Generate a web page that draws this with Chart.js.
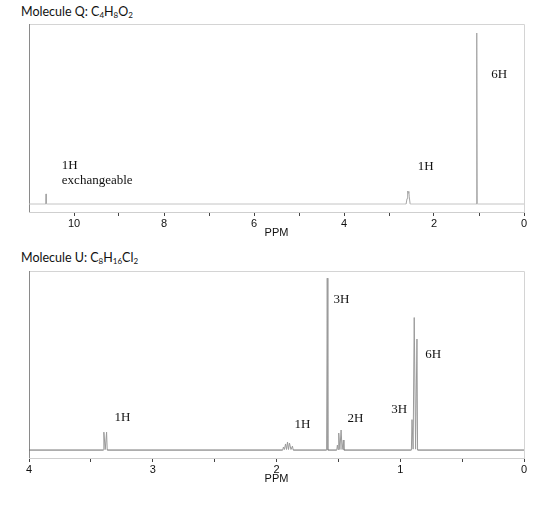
<!DOCTYPE html>
<html>
<head>
<meta charset="utf-8">
<script src="https://cdn.jsdelivr.net/npm/chart.js@4/dist/chart.umd.min.js"></script>
<style>
  body { margin: 0; background: #fff; width: 560px; height: 515px; position: relative; overflow: hidden; }
  .mol-title { position: absolute; left: 21px; font-family: Lato, "Open Sans", sans-serif; font-size: 12.5px; color: #111; line-height: 1; white-space: nowrap; }
  .mol-title sub { font-size: 8px; vertical-align: -2px; line-height: 0; }
  canvas { position: absolute; left: 0; }
</style>
</head>
<body>
<div class="mol-title" style="top:6px;">Molecule Q: C<sub>4</sub>H<sub>8</sub>O<sub>2</sub></div>
<canvas id="chart-q" width="560" height="245" style="top:0px;"></canvas>
<div class="mol-title" style="top:252px;">Molecule U: C<sub>8</sub>H<sub>16</sub>Cl<sub>2</sub></div>
<canvas id="chart-u" width="560" height="244" style="top:247px;"></canvas>
<script>
// Molecule Q trace (chemical shift in ppm, relative intensity)
const qShift = [11, 10.625, 10.62, 10.615,
  2.62, 2.60, 2.59, 2.58, 2.57, 2.56, 2.55, 2.53,
  1.06, 1.053, 1.05, 1.047, 1.04, 0];
const qIntensity = [0, 0, 5.6, 0,
  0, 3, 5, 7.2, 6, 7, 4, 0,
  0, 95, 1, 90, 0, 0];

// Molecule U trace
const uShift = [4, 3.40, 3.395, 3.384, 3.373, 3.368,
  1.95, 1.944, 1.936, 1.927, 1.919, 1.911, 1.903, 1.895, 1.883, 1.871, 1.865,
  1.595, 1.59, 1.585,
  1.513, 1.508, 1.503, 1.497, 1.488, 1.478, 1.47, 1.46, 1.455,
  0.91, 0.905, 0.896, 0.887, 0.876, 0.865, 0.86, 0];
const uIntensity = [0, 0, 10, 0.3, 10, 0,
  0, 1.7, 0.3, 3.4, 0.3, 4.5, 0.3, 3.9, 0.3, 2.2, 0,
  0, 96, 0,
  0, 2.8, 0.3, 9.5, 0.3, 11.2, 0.3, 5.6, 0,
  0, 17, 0.5, 74, 0.5, 62, 0, 0];

// peak integration labels: text, ppm of left edge, intensity level
const qLabelText = ["1H", "exchangeable", "1H", "6H"];
const qLabelShift = [10.27, 10.27, 2.36, 0.73];
const qLabelLevel = [21.1, 12.8, 20.6, 71.7];

const uLabelText = ["1H", "1H", "3H", "2H", "3H", "6H"];
const uLabelShift = [3.31, 1.855, 1.54, 1.427, 1.073, 0.798];
const uLabelLevel = [18.4, 14.2, 83.8, 17.6, 22.6, 53.1];

const framePlugin = {
  id: "frame",
  beforeDatasetsDraw(chart) {
    const a = chart.chartArea;
    const c = chart.ctx;
    c.save();
    c.lineWidth = 1;
    c.strokeStyle = "#d4d4d4";
    c.beginPath();
    c.moveTo(a.left, a.top + 0.5);
    c.lineTo(a.right + 0.5, a.top + 0.5);
    c.lineTo(a.right + 0.5, a.bottom);
    c.stroke();
    c.strokeStyle = "#8a8a8a";
    c.beginPath();
    c.moveTo(a.left + 0.5, a.top);
    c.lineTo(a.left + 0.5, a.bottom);
    c.stroke();
    c.restore();
  }
};

const peakLabels = {
  id: "peakLabels",
  afterDatasetsDraw(chart, args, opts) {
    const c = chart.ctx;
    const xs = chart.scales.x, ys = chart.scales.y;
    c.save();
    c.font = "13px 'Liberation Serif', 'Times New Roman', serif";
    c.fillStyle = "#111";
    c.textAlign = "left";
    c.textBaseline = "middle";
    opts.text.forEach((t, i) => {
      c.fillText(t, xs.getPixelForValue(opts.shift[i]), ys.getPixelForValue(opts.level[i]));
    });
    c.restore();
  }
};

function makeSpectrum(id, shift, intensity, maxPpm, step, labelEvery, baseColor, peakColor, labels) {
  return new Chart(document.getElementById(id), {
    type: "line",
    data: {
      datasets: [{
        data: shift.map((s, i) => ({ x: s, y: intensity[i] })),
        borderColor: peakColor,
        borderWidth: 1,
        pointRadius: 0,
        tension: 0,
        fill: false,
        segment: {
          borderColor: ctx => (ctx.p0.parsed.y === 0 && ctx.p1.parsed.y === 0) ? baseColor : peakColor
        }
      }]
    },
    options: {
      responsive: false,
      animation: false,
      layout: { padding: { left: 29, right: 36, top: 24, bottom: 0 } },
      plugins: {
        legend: { display: false },
        tooltip: { enabled: false },
        peakLabels: labels
      },
      scales: {
        x: {
          type: "linear",
          reverse: true,
          min: 0,
          max: maxPpm,
          afterFit(scale) { scale.height = 33; },
          ticks: {
            stepSize: step,
            autoSkip: false,
            maxRotation: 0,
            padding: 1,
            color: "#111",
            font: { family: "'Liberation Sans', Arial, sans-serif", size: 11 },
            callback: v => (Math.abs(v % labelEvery) < 1e-6 && !(labelEvery === 2 && v === maxPpm)) ? String(v) : ""
          },
          grid: {
            drawOnChartArea: false,
            drawTicks: true,
            tickLength: 4,
            color: ctx => (labelEvery === 2 && ctx.tick && ctx.tick.value === maxPpm) ? "rgba(0,0,0,0)" : "#444"
          },
          border: { color: "#cfcfcf" },
          title: {
            display: true,
            text: "PPM",
            color: "#111",
            font: { family: "'Liberation Sans', Arial, sans-serif", size: 11 },
            padding: { top: 0, bottom: 5 }
          }
        },
        y: {
          display: false,
          min: -4.44,
          max: 100
        }
      }
    },
    plugins: [framePlugin, peakLabels]
  });
}

makeSpectrum("chart-q", qShift, qIntensity, 11, 1, 2, "#c4c4c4", "#a6a6a6",
  { text: qLabelText, shift: qLabelShift, level: qLabelLevel });
makeSpectrum("chart-u", uShift, uIntensity, 4, 0.5, 1, "#6a6a6a", "#9a9a9a",
  { text: uLabelText, shift: uLabelShift, level: uLabelLevel });
</script>
</body>
</html>
